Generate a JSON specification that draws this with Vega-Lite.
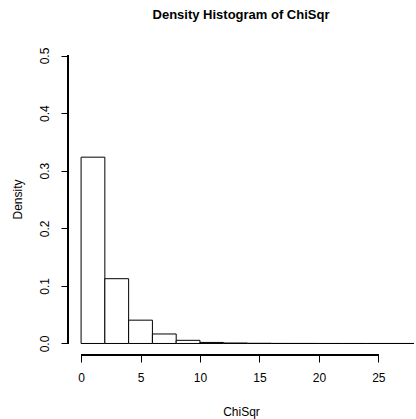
{
  "$schema": "https://vega.github.io/schema/vega-lite/v6.json",
  "autosize": "none",
  "width": 346,
  "height": 311,
  "padding": {"left": 68, "top": 44, "right": 2, "bottom": 64},
  "background": "white",
  "title": {
    "text": "Density Histogram of ChiSqr",
    "anchor": "middle",
    "frame": "group",
    "font": "Liberation Sans",
    "fontSize": 13,
    "fontWeight": "bold",
    "color": "black",
    "baseline": "alphabetic",
    "offset": 12
  },
  "config": {
    "view": {"stroke": null},
    "axis": {
      "domain": false,
      "grid": false,
      "tickColor": "black",
      "tickWidth": 1,
      "tickSize": 7,
      "labelFont": "Liberation Sans",
      "labelFontSize": 12,
      "labelColor": "black",
      "titleFont": "Liberation Sans",
      "titleFontSize": 12,
      "titleFontWeight": "normal",
      "titleColor": "black"
    }
  },
  "data": {
    "values": [
      {"bin_start": 0, "bin_end": 2, "density": 0.3235},
      {"bin_start": 2, "bin_end": 4, "density": 0.1125},
      {"bin_start": 4, "bin_end": 6, "density": 0.0405},
      {"bin_start": 6, "bin_end": 8, "density": 0.0165},
      {"bin_start": 8, "bin_end": 10, "density": 0.0055},
      {"bin_start": 10, "bin_end": 12, "density": 0.0018},
      {"bin_start": 12, "bin_end": 14, "density": 0.0008},
      {"bin_start": 14, "bin_end": 16, "density": 0.0003},
      {"bin_start": 16, "bin_end": 18, "density": 0.0001},
      {"bin_start": 18, "bin_end": 20, "density": 0.00005},
      {"bin_start": 20, "bin_end": 22, "density": 0.00002},
      {"bin_start": 22, "bin_end": 24, "density": 0.00001},
      {"bin_start": 24, "bin_end": 26, "density": 0.00001},
      {"bin_start": 26, "bin_end": 28, "density": 0.00001}
    ]
  },
  "layer": [
    {
      "mark": {"type": "rect", "fill": "white", "stroke": "black", "strokeWidth": 1, "clip": true},
      "encoding": {
        "x": {
          "field": "bin_start", "type": "quantitative",
          "scale": {"domain": [-1.1, 28], "nice": false, "zero": false},
          "axis": {
            "values": [0, 5, 10, 15, 20, 25],
            "title": "ChiSqr",
            "labelPadding": 10,
            "labelFlush": false,
            "titleY": 60,
            "titleBaseline": "alphabetic"
          }
        },
        "x2": {"field": "bin_end"},
        "y": {
          "field": "density", "type": "quantitative",
          "scale": {"domain": [-0.02, 0.52], "nice": false, "zero": false},
          "axis": {
            "values": [0, 0.1, 0.2, 0.3, 0.4, 0.5],
            "format": ".1f",
            "title": "Density",
            "labelAngle": -90,
            "labelAlign": "center",
            "labelBaseline": "bottom",
            "labelPadding": 10,
            "labelFlush": false,
            "titleAngle": -90,
            "titleX": -47,
            "titleY": 155,
            "titleBaseline": "alphabetic"
          }
        },
        "y2": {"datum": 0}
      }
    },
    {
      "mark": {"type": "rule", "color": "black", "strokeWidth": 1},
      "encoding": {
        "x": {"datum": 0, "type": "quantitative"},
        "x2": {"datum": 25},
        "y": {"datum": -0.02, "type": "quantitative"}
      }
    },
    {
      "mark": {"type": "rule", "color": "black", "strokeWidth": 1},
      "encoding": {
        "x": {"datum": -1.1, "type": "quantitative"},
        "y": {"datum": 0, "type": "quantitative"},
        "y2": {"datum": 0.5}
      }
    }
  ]
}
